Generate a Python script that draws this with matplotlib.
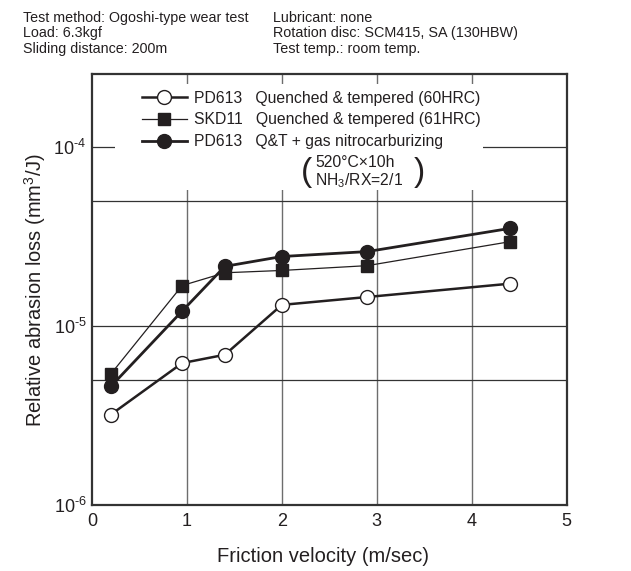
import numpy as np
import matplotlib
matplotlib.use('Agg')
import matplotlib.pyplot as plt
from matplotlib.lines import Line2D
from matplotlib.patches import Rectangle
from matplotlib.ticker import FixedLocator, FixedFormatter, NullLocator

plt.rcParams['font.family'] = ['Liberation Sans', 'DejaVu Sans']
plt.rcParams['mathtext.fontset'] = 'custom'
plt.rcParams['mathtext.rm'] = 'Liberation Sans'
plt.rcParams['mathtext.it'] = 'Liberation Sans'

INK = '#231f20'

velocity = [0.2, 0.95, 1.4, 2.0, 2.9, 4.4]
pd613_qt = [3.2e-6, 6.2e-6, 6.9e-6, 1.31e-5, 1.45e-5, 1.72e-5]
skd11_qt = [5.4e-6, 1.68e-5, 1.98e-5, 2.04e-5, 2.17e-5, 2.95e-5]
pd613_nitro = [4.6e-6, 1.21e-5, 2.15e-5, 2.44e-5, 2.6e-5, 3.5e-5]

series_labels = ['PD613   Quenched & tempered (60HRC)',
                 'SKD11   Quenched & tempered (61HRC)',
                 'PD613   Q&T + gas nitrocarburizing']

header_left = ['Test method: Ogoshi-type wear test', 'Load: 6.3kgf', 'Sliding distance: 200m']
header_right = ['Lubricant: none', 'Rotation disc: SCM415, SA (130HBW)', 'Test temp.: room temp.']

x_ticks = [0, 1, 2, 3, 4, 5]
y_ticks = [1e-6, 1e-5, 1e-4]
y_tick_labels = [r'$\mathregular{10^{\text{-}6}}$', r'$\mathregular{10^{\text{-}5}}$',
                 r'$\mathregular{10^{\text{-}4}}$']
h_grid = [5e-6, 1e-5, 5e-5, 1e-4]
v_grid = [1, 2, 3, 4]

fig = plt.figure(figsize=(6.31, 5.71), dpi=100)
ax = fig.add_axes([0.1458, 0.1156, 0.7520, 0.7548])
ax.set_yscale('log')
ax.set_xlim(0, 5)
ax.set_ylim(1e-6, 2.55e-4)

for g in v_grid:
    ax.axvline(g, color='#6d6d6d', lw=1.0, zorder=1)
for g in h_grid:
    ax.axhline(g, color='#333333', lw=0.9, zorder=1)

# white area behind the legend
ax.add_patch(Rectangle((0.048, 0.731), 0.776, 0.246, transform=ax.transAxes,
                       facecolor='white', edgecolor='none', zorder=2))

ax.plot(velocity, pd613_qt, color=INK, lw=1.8, marker='o', ms=10,
        mfc='white', mec=INK, mew=1.0, zorder=4)
ax.plot(velocity, skd11_qt, color=INK, lw=0.9, marker='s', ms=9,
        mfc=INK, mec=INK, zorder=4)
ax.plot(velocity, pd613_nitro, color=INK, lw=2.0, marker='o', ms=10,
        mfc=INK, mec=INK, zorder=5)

handles = [
    Line2D([], [], color=INK, lw=1.8, marker='o', ms=10, mfc='white', mec=INK),
    Line2D([], [], color=INK, lw=0.9, marker='s', ms=9, mfc=INK, mec=INK),
    Line2D([], [], color=INK, lw=2.0, marker='o', ms=10, mfc=INK, mec=INK),
]
leg = ax.legend(handles, series_labels, loc='upper left', bbox_to_anchor=(0.105, 0.961),
                frameon=False, fontsize=11.3, handlelength=2.85, handletextpad=0.5,
                labelspacing=0.42, borderaxespad=0, borderpad=0)
for t in leg.get_texts():
    t.set_color(INK)
leg.set_zorder(6)

ax.text(0.452, 0.772, '(', transform=ax.transAxes, fontsize=24, color=INK,
        va='center', ha='center', fontweight='light', zorder=6)
ax.text(0.69, 0.772, ')', transform=ax.transAxes, fontsize=24, color=INK,
        va='center', ha='center', fontweight='light', zorder=6)
ax.text(0.470, 0.772, '520°C×10h\nNH$_3$/RX=2/1', transform=ax.transAxes,
        fontsize=11.3, color=INK, va='center', ha='left', linespacing=1.1, zorder=6)

ax.xaxis.set_major_locator(FixedLocator(x_ticks))
ax.yaxis.set_major_locator(FixedLocator(y_ticks))
ax.yaxis.set_major_formatter(FixedFormatter(y_tick_labels))
ax.yaxis.set_minor_locator(NullLocator())
ax.tick_params(length=0, labelsize=13, colors=INK, pad=6)
ax.tick_params(axis='y', pad=4)

for s in ax.spines.values():
    s.set_linewidth(1.6)
    s.set_color('#333333')
    s.set_zorder(7)

ax.set_xlabel('Friction velocity (m/sec)', fontsize=14.5, color=INK, labelpad=12)
ax.xaxis.set_label_coords(0.487, -0.097)
ax.set_ylabel('Relative abrasion loss (mm$^3$/J)', fontsize=14.5, color=INK, labelpad=4)

for i, s in enumerate(header_left):
    fig.text(23 / 631, 1 - (18 + 15.5 * i) / 571, s, fontsize=10.25, color=INK, va='center')
for i, s in enumerate(header_right):
    fig.text(273 / 631, 1 - (18 + 15.5 * i) / 571, s, fontsize=10.4, color=INK, va='center')

fig.savefig('out.png', dpi=100)
